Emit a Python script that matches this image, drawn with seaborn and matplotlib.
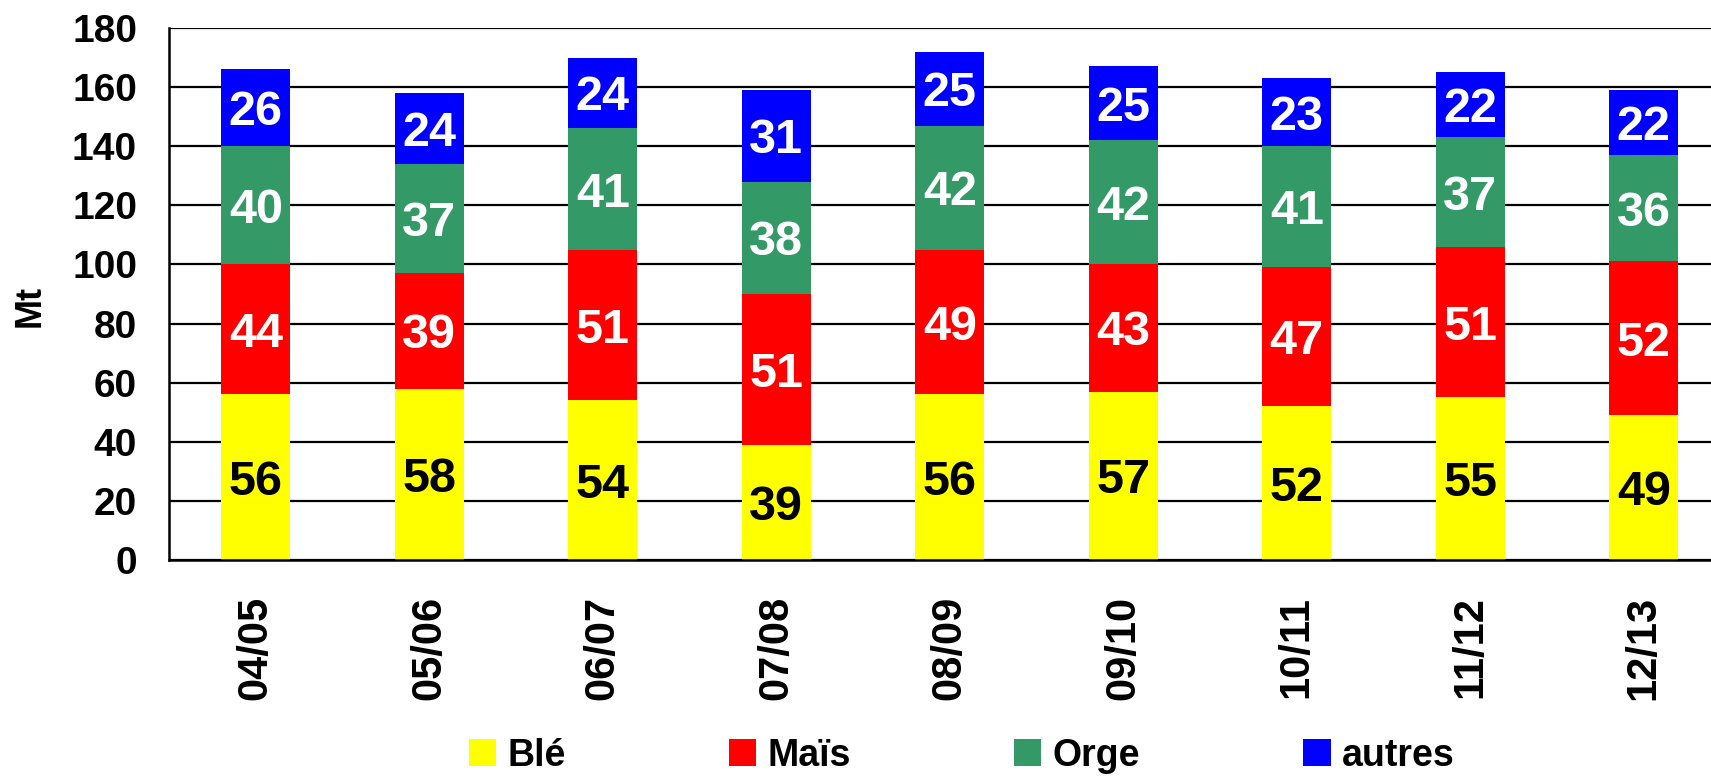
import matplotlib

matplotlib.use("Agg")
import matplotlib.pyplot as plt
import numpy as np
import pandas as pd
import seaborn as sns
from matplotlib.patches import Patch

# Production par campagne (Mt)
CAMPAGNES = ["04/05", "05/06", "06/07", "07/08", "08/09", "09/10", "10/11", "11/12", "12/13"]
BLE = [56, 58, 54, 39, 56, 57, 52, 55, 49]
MAIS = [44, 39, 51, 51, 49, 43, 47, 51, 52]
ORGE = [40, 37, 41, 38, 42, 42, 41, 37, 36]
AUTRES = [26, 24, 24, 31, 25, 25, 23, 22, 22]

SERIES = ["Blé", "Maïs", "Orge", "autres"]
COLORS = ["#FFFF00", "#FF0000", "#339966", "#0000FF"]
TEXT_COLORS = ["black", "white", "white", "white"]


def main():
    sns.set_theme(style="white")
    plt.rcParams["font.family"] = ["Liberation Sans", "DejaVu Sans"]
    plt.rcParams.update(
        {
            "font.weight": "bold",
            "text.color": "black",
            "axes.labelcolor": "black",
            "xtick.color": "black",
            "ytick.color": "black",
        }
    )

    values = np.array([BLE, MAIS, ORGE, AUTRES], dtype=float)
    tops = values.cumsum(axis=0)

    fig = plt.figure(figsize=(17.11, 7.77), dpi=100)
    ax = fig.add_axes([0.0988, 0.2793, 0.9126, 0.6847])

    # stacked bars: draw cumulative totals from the top series down
    for i in reversed(range(len(SERIES))):
        frame = pd.DataFrame({"campagne": CAMPAGNES, "total": tops[i]})
        sns.barplot(
            data=frame,
            x="campagne",
            y="total",
            color=COLORS[i],
            saturation=1,
            width=0.4,
            errorbar=None,
            linewidth=0,
            ax=ax,
        )

    for i in range(len(SERIES)):
        bottoms = tops[i] - values[i]
        for j, v in enumerate(values[i]):
            ax.text(
                j,
                bottoms[j] + v / 2,
                f"{int(v)}",
                ha="center",
                va="center_baseline",
                fontsize=35,
                fontweight="bold",
                color=TEXT_COLORS[i],
            )

    ax.set_ylim(0, 180)
    ax.set_yticks(range(0, 181, 20))
    ax.set_axisbelow(True)
    ax.grid(axis="y", color="black", linewidth=1.6)
    ax.grid(axis="x", visible=False)
    ax.tick_params(axis="y", length=0, pad=23, labelsize=28)
    ax.tick_params(axis="x", length=0, pad=26, labelsize=30, rotation=90)
    for label in ax.get_xticklabels() + ax.get_yticklabels():
        label.set_fontweight("bold")
    ax.set_xlabel("")
    ax.set_ylabel("Mt", fontsize=26, fontweight="bold")
    ax.yaxis.set_label_coords(-0.0775, 0.477)

    for side in ["top", "right"]:
        ax.spines[side].set_visible(False)
    for side in ["left", "bottom"]:
        ax.spines[side].set_color("black")
        ax.spines[side].set_linewidth(1.8)

    handles = [Patch(facecolor=c, edgecolor="none") for c in COLORS]
    fig.legend(
        handles,
        SERIES,
        loc="center",
        bbox_to_anchor=(0.562, 0.027),
        ncol=4,
        frameon=False,
        prop={"weight": "bold", "size": 27},
        handlelength=0.73,
        handleheight=0.73,
        handletextpad=0.3,
        columnspacing=4.35,
    )

    fig.savefig("out.png", dpi=100, facecolor="white")
    plt.close(fig)


if __name__ == "__main__":
    main()
